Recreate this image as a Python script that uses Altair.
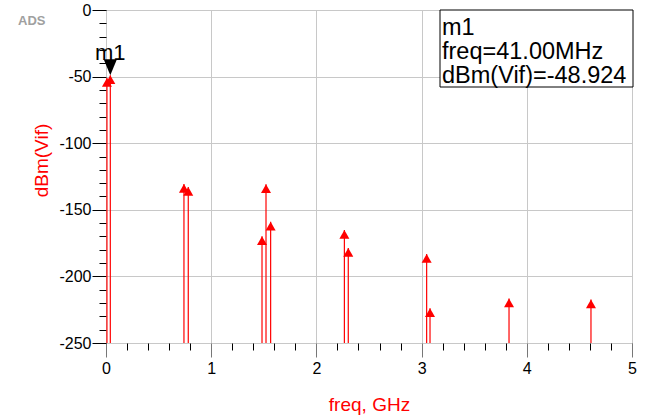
import altair as alt
import pandas as pd

# Spectrum lines (frequency in GHz, level in dBm)
freq_ghz = [0.009, 0.041, 0.741, 0.782, 1.483, 1.521, 1.565, 2.266, 2.303, 3.048, 3.080, 3.831, 4.610]
dbm_vif = [-51.0, -48.924, -130.6, -132.9, -169.8, -130.8, -159.0, -165.2, -178.6, -183.2, -224.0, -216.6, -217.4]

# Marker m1
marker_name = "m1"
marker_freq_ghz = 0.041
marker_dbm = -48.924

x_major_ticks = [0, 1, 2, 3, 4, 5]
x_minor_ticks = [0.2, 0.4, 0.6, 0.8, 1.2, 1.4, 1.6, 1.8, 2.2, 2.4, 2.6, 2.8,
                 3.2, 3.4, 3.6, 3.8, 4.2, 4.4, 4.6, 4.8]
y_major_ticks = [0, -50, -100, -150, -200, -250]
y_minor_ticks = [v for v in range(-240, 0, 10) if v % 50 != 0]

FONT = "Liberation Sans"
W, H = 526, 333

df = pd.DataFrame({"freq": freq_ghz, "dbm": dbm_vif})
df["floor"] = -250
mk = pd.DataFrame({"freq": [marker_freq_ghz], "dbm": [marker_dbm], "label": [marker_name]})

xs = alt.Scale(domain=[0, 5], nice=False, zero=False)
ys = alt.Scale(domain=[-250, 0], nice=False, zero=False)

HYPHEN = "toString(datum.value)"

x_major = alt.Axis(
    orient="bottom", values=x_major_ticks, labelExpr=HYPHEN, tickSize=14, tickColor="#777",
    grid=True, gridColor="#c8c8c8", gridWidth=1, domain=False,
    labelFont=FONT, labelFontSize=16, labelColor="black", labelPadding=3,
    labelFlush=False, labelOverlap=False,
    title="freq, GHz", titleFont=FONT, titleFontSize=19, titleFontWeight="normal",
    titleColor="#ff0000", titleX=W / 2, titleY=61, titleAlign="center", titleBaseline="middle",
)
y_major = alt.Axis(
    orient="left", values=y_major_ticks, labelExpr=HYPHEN, tickSize=14, tickColor="black",
    grid=True, gridColor="#c8c8c8", gridWidth=1, domain=False,
    labelFont=FONT, labelFontSize=16, labelColor="black", labelPadding=1,
    labelFlush=False, labelOverlap=False,
    title="dBm(Vif)", titleFont=FONT, titleFontSize=19, titleFontWeight="normal",
    titleColor="#ff0000", titleX=-65, titleY=150, titleAngle=270,
    titleAlign="center", titleBaseline="middle",
)
x_minor = alt.Axis(orient="bottom", values=x_minor_ticks, tickSize=7, tickColor="black",
                   labels=False, domain=False, grid=False, title=None)
y_minor = alt.Axis(orient="left", values=y_minor_ticks, tickSize=7, tickColor="black",
                   labels=False, domain=False, grid=False, title=None)

rules = alt.Chart(df).mark_rule(color="#ff0000", strokeWidth=1.2).encode(
    x=alt.X("freq:Q", scale=xs, axis=x_major),
    y=alt.Y("dbm:Q", scale=ys, axis=y_major),
    y2="floor:Q",
)

tris = alt.Chart(df).mark_point(
    shape="M0,0L2,3.5L-2,3.5Z", size=25, filled=True, color="#ff0000", opacity=1
).encode(
    x=alt.X("freq:Q", scale=xs, axis=x_minor),
    y=alt.Y("dbm:Q", scale=ys, axis=y_minor),
)

mk_tri = alt.Chart(mk).mark_point(
    shape="M0,0L-2.5,-6L2.5,-6Z", size=28, filled=True, color="black", opacity=1
).encode(
    x=alt.X("freq:Q", scale=xs, axis=None),
    y=alt.Y("dbm:Q", scale=ys, axis=None),
)

mk_txt = alt.Chart(mk).mark_text(
    font=FONT, fontSize=22, color="black", dy=-15, baseline="alphabetic", align="center"
).encode(
    x=alt.X("freq:Q", scale=xs, axis=None),
    y=alt.Y("dbm:Q", scale=ys, axis=None),
    text="label:N",
)

box = alt.Chart(mk).mark_rect(fill="white", stroke="black", strokeWidth=1).encode(
    x=alt.value(334), x2=alt.value(527), y=alt.value(0), y2=alt.value(77)
)

readout = f"{marker_name}\nfreq={marker_freq_ghz * 1000:.2f}MHz\ndBm(Vif)={marker_dbm:.3f}"
box_txt = alt.Chart(mk).mark_text(
    font=FONT, fontSize=23.5, color="black", align="left", baseline="alphabetic",
    lineBreak="\n", lineHeight=24,
).encode(x=alt.value(336), y=alt.value(25), text=alt.value(readout))

logo = alt.Chart(mk).mark_text(
    font=FONT, fontSize=13, fontWeight="bold", color="#a0a0a0", align="left", baseline="alphabetic"
).encode(x=alt.value(-88), y=alt.value(15), text=alt.value("ADS"))

chart = alt.layer(rules, tris, mk_tri, mk_txt, box, box_txt, logo).resolve_axis(
    x="independent", y="independent"
).properties(
    width=W, height=H,
    autosize=alt.AutoSizeParams(type="none"),
    padding={"left": 106, "top": 10, "right": 16, "bottom": 76},
    background="white",
).configure_view(stroke="black", strokeWidth=1)

chart.save("out.html", embed_options={"renderer": "svg", "actions": False})
